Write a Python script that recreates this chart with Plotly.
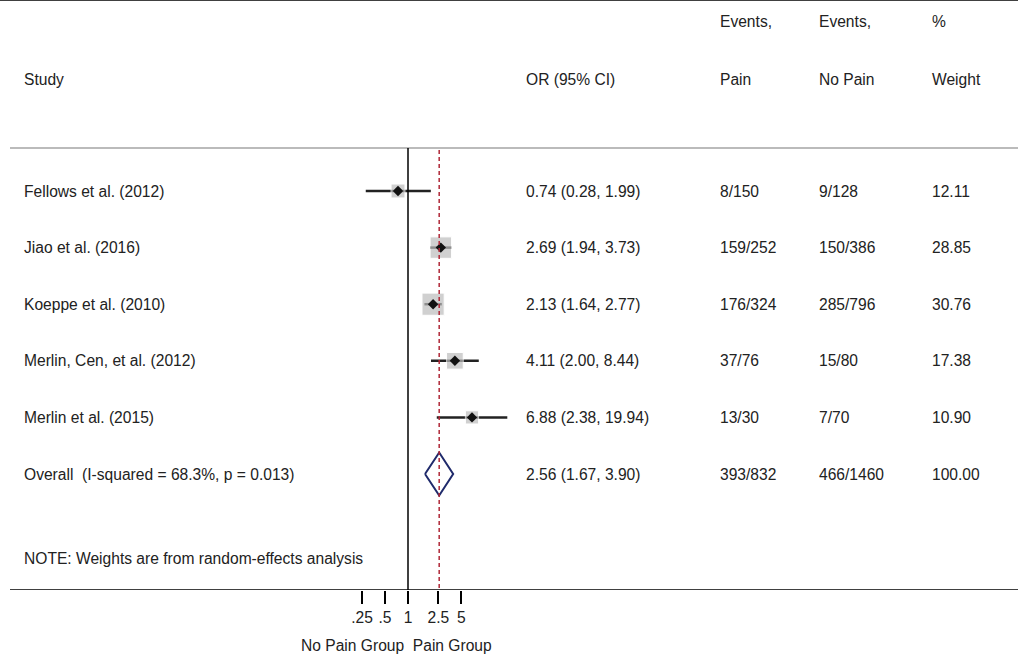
import plotly.graph_objects as go
import numpy as np

W, H = 1018, 656

studies = ["Fellows et al. (2012)", "Jiao et al. (2016)", "Koeppe et al. (2010)",
           "Merlin, Cen, et al. (2012)", "Merlin et al. (2015)"]
odds = [0.74, 2.69, 2.13, 4.11, 6.88]
lower = [0.28, 1.94, 1.64, 2.00, 2.38]
upper = [1.99, 3.73, 2.77, 8.44, 19.94]
ev_pain = ["8/150", "159/252", "176/324", "37/76", "13/30"]
ev_nopain = ["9/128", "150/386", "285/796", "15/80", "7/70"]
weights = [12.11, 28.85, 30.76, 17.38, 10.90]
overall_label = "Overall  (I-squared = 68.3%, p = 0.013)"
overall = (2.56, 1.67, 3.90)
overall_ev = ("393/832", "466/1460", "100.00")
tick_vals = [0.25, 0.5, 1, 2.5, 5]
tick_text = [".25", ".5", "1", "2.5", "5"]

# pixel x = 408 + 23*log2(x)
lo = (0 - 408) / 23 * np.log10(2)
hi = (W - 408) / 23 * np.log10(2)
# pixel y = 191 + 56.6*row, plot area 0..590
ytop = (0 - 191) / 56.6
ybot = (590 - 191) / 56.6

def yrow(py):
    return (py - 191) / 56.6

fig = go.Figure()
rows = list(range(len(studies)))
for i in rows:
    fig.add_trace(go.Scatter(x=[lower[i], upper[i]], y=[i, i], mode="lines",
                             line=dict(color="#222", width=2.5), showlegend=False))
fig.add_trace(go.Scatter(x=odds, y=rows, mode="markers", showlegend=False,
                         marker=dict(symbol="square", color="#bdbdbd",
                                     size=[4 * np.sqrt(w) for w in weights])))
fig.add_trace(go.Scatter(x=odds, y=rows, mode="markers", showlegend=False,
                         marker=dict(symbol="diamond", color="#111", size=8)))
r = len(studies)
fig.add_trace(go.Scatter(x=[overall[1], overall[0], overall[2], overall[0], overall[1]],
                         y=[r, r - 0.38, r, r + 0.38, r], mode="lines", fill="toself",
                         fillcolor="white", line=dict(color="#1f2a6b", width=2),
                         showlegend=False))

shapes = [
    dict(type="line", xref="paper", yref="paper", x0=0, x1=1, y0=1, y1=1,
         line=dict(color="black", width=1.5)),
    dict(type="line", xref="paper", yref="y", x0=10 / W, x1=1, y0=yrow(148),
         y1=yrow(148), line=dict(color="#bbb", width=2)),
    dict(type="line", xref="paper", yref="y", x0=10 / W, x1=1, y0=ybot, y1=ybot,
         line=dict(color="black", width=1.5)),
    dict(type="line", xref="x", yref="y", x0=1, x1=1, y0=yrow(148), y1=ybot,
         line=dict(color="black", width=1.5)),
    dict(type="line", xref="x", yref="y", x0=overall[0], x1=overall[0],
         y0=yrow(150), y1=ybot, line=dict(color="#b02838", width=1.5, dash="4px,3px")),
]

ann = []
def txt(px, py, s):
    ann.append(dict(x=px / W, y=1 - py / 590, xref="paper", yref="paper", text=s,
                    showarrow=False, xanchor="left", yanchor="middle",
                    font=dict(size=15.6, color="#222")))

txt(718, 22, "Events,"); txt(817, 22, "Events,"); txt(930, 22, "%")
txt(22, 79, "Study"); txt(524, 79, "OR (95% CI)"); txt(718, 79, "Pain")
txt(817, 79, "No Pain"); txt(930, 79, "Weight")
for i in rows:
    py = 191 + 56.6 * i
    txt(22, py, studies[i])
    txt(524, py, f"{odds[i]:.2f} ({lower[i]:.2f}, {upper[i]:.2f})")
    txt(718, py, ev_pain[i]); txt(817, py, ev_nopain[i]); txt(930, py, f"{weights[i]:.2f}")
py = 191 + 56.6 * r
txt(22, py, overall_label)
txt(524, py, f"{overall[0]:.2f} ({overall[1]:.2f}, {overall[2]:.2f})")
txt(718, py, overall_ev[0]); txt(817, py, overall_ev[1]); txt(930, py, overall_ev[2])
txt(22, 558, "NOTE: Weights are from random-effects analysis")
txt(299, 645, "No Pain Group  Pain Group")

fig.update_layout(
    width=W, height=H, margin=dict(l=0, r=0, t=0, b=H - 590),
    plot_bgcolor="white", paper_bgcolor="white",
    font=dict(family="Liberation Sans, Arial", size=15.6, color="#222"),
    shapes=shapes, annotations=ann,
    xaxis=dict(type="log", range=[lo, hi], tickvals=tick_vals, ticktext=tick_text,
               ticks="outside", ticklen=13, tickwidth=1.5, tickcolor="black",
               showgrid=False, zeroline=False, showline=False),
    yaxis=dict(range=[ybot, ytop], visible=False),
)
fig.write_html("out.html", config={"displayModeBar": False},
               post_script="document.body.style.margin='0';")
